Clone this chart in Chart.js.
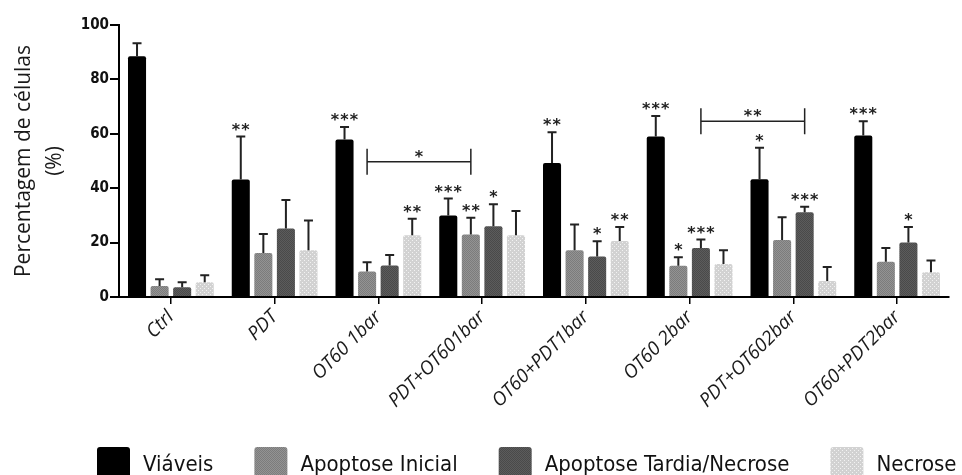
<!DOCTYPE html>
<html>
<head>
<meta charset="utf-8">
<script src="https://cdn.jsdelivr.net/npm/chart.js@4/dist/chart.umd.min.js"></script>
<style>
    html, body { margin: 0; padding: 0; background: #fff; }
    #wrap { width: 962px; height: 475px; position: relative; }
</style>
</head>
<body>
<div id="wrap"><canvas id="graph"></canvas></div>
<script>
//categories on the x axis
var categories = ['Ctrl', 'PDT', 'OT60 1bar', 'PDT+OT601bar', 'OT60+PDT1bar', 'OT60 2bar', 'PDT+OT602bar', 'OT60+PDT2bar'];

//mean values (%)
var viaveis = [88.5, 43.2, 57.9, 30, 49.3, 59, 43.3, 59.4];
var apoptoseInicial = [4, 16.2, 9.4, 23, 17.2, 11.5, 21, 13];
var apoptoseTardia = [3.6, 25.2, 11.6, 26, 14.9, 18, 31.2, 20];
var necrose = [5.4, 17.2, 22.7, 22.7, 20.6, 12.1, 5.9, 9.1];

//upper error bars
var viaveisErr = [4.8, 15.8, 4.6, 6.2, 11.3, 7.5, 11.6, 5.2];
var apoptoseInicialErr = [2.5, 7, 3.4, 6.1, 9.5, 3.1, 8.3, 5];
var apoptoseTardiaErr = [1.8, 10.5, 3.8, 8.1, 5.6, 3.1, 2, 5.7];
var necroseErr = [2.6, 10.9, 6.1, 8.9, 5.1, 5.1, 5.1, 4.3];

//significance stars over each bar
var viaveisSig = ['', '**', '***', '***', '**', '***', '*', '***'];
var apoptoseInicialSig = ['', '', '', '**', '', '*', '', ''];
var apoptoseTardiaSig = ['', '', '', '*', '*', '***', '***', '*'];
var necroseSig = ['', '', '**', '', '**', '', '', ''];

//comparison brackets: dataset index, from category, to category, height (%), label
var brackets = [
    [1, 2, 3, 49.7, '*'],
    [2, 5, 6, 64.6, '**']
];

var yTicks = [0, 20, 40, 60, 80, 100];

var narrowFont = '"DejaVu Sans Condensed", "Liberation Sans Narrow", Lato, sans-serif';


//small textured fills like the original print
function make_pattern(base, dot, kind) {
    var c = document.createElement('canvas');
    c.width = 4;
    c.height = 4;
    var g = c.getContext('2d');
    g.fillStyle = base;
    g.fillRect(0, 0, 4, 4);
    g.fillStyle = dot;
    for (var x = 0; x < 4; x++) {
        for (var y = 0; y < 4; y++) {
            if (kind == 'checker' && (x + y) % 2 == 0) g.fillRect(x, y, 1, 1);
            if (kind == 'dots' && x % 2 == 0 && y % 2 == 0 && (x + y) % 4 == 0) g.fillRect(x, y, 1, 1);
        }
    }
    return g.createPattern(c, 'repeat');
}

var fillInicial = make_pattern('#939393', '#7c7c7c', 'checker');
var fillTardia = make_pattern('#5c5c5c', '#4a4a4a', 'checker');
var fillNecrose = make_pattern('#d2d2d2', '#f2f2f2', 'dots');


function star_text(ctx, text, x, y) {
    //draw asterisks one by one so they keep the wide spacing
    var pitch = 9.5;
    var start = x - (text.length - 1) * pitch / 2;
    for (var i = 0; i < text.length; i++) {
        ctx.fillText('*', start + i * pitch, y);
    }
}

//error bars + stars
var errorPlugin = {
    id: 'errorBars',
    afterDatasetsDraw: function (chart) {
        var ctx = chart.ctx;
        var yScale = chart.scales.y;
        ctx.save();
        chart.data.datasets.forEach(function (ds, di) {
            var meta = chart.getDatasetMeta(di);
            meta.data.forEach(function (bar, i) {
                var top = yScale.getPixelForValue(ds.data[i] + ds.errors[i]);
                ctx.strokeStyle = '#222';
                ctx.lineWidth = 2;
                ctx.beginPath();
                ctx.moveTo(bar.x, bar.y);
                ctx.lineTo(bar.x, top);
                ctx.moveTo(bar.x - 4.5, top);
                ctx.lineTo(bar.x + 4.5, top);
                ctx.stroke();
                if (ds.sig[i]) {
                    ctx.fillStyle = '#222';
                    ctx.font = 'bold 16px "DejaVu Sans"';
                    ctx.textAlign = 'center';
                    ctx.textBaseline = 'alphabetic';
                    star_text(ctx, ds.sig[i], bar.x, top - 12 + 10);
                }
            });
        });

        //brackets
        brackets.forEach(function (b) {
            var meta = chart.getDatasetMeta(b[0]);
            var x1 = meta.data[b[1]].x;
            var x2 = meta.data[b[2]].x;
            var y = yScale.getPixelForValue(b[3]);
            ctx.strokeStyle = '#222';
            ctx.lineWidth = 1.5;
            ctx.beginPath();
            ctx.moveTo(x1, y);
            ctx.lineTo(x2, y);
            ctx.moveTo(x1, y - 13);
            ctx.lineTo(x1, y + 13);
            ctx.moveTo(x2, y - 13);
            ctx.lineTo(x2, y + 13);
            ctx.stroke();
            ctx.fillStyle = '#222';
            ctx.font = 'bold 16px "DejaVu Sans"';
            ctx.textAlign = 'center';
            star_text(ctx, b[4], (x1 + x2) / 2, y - 10 + 10);
        });
        ctx.restore();
    }
};

//legend across the bottom, spread like the original
var legendPlugin = {
    id: 'bottomLegend',
    afterDraw: function (chart) {
        var ctx = chart.ctx;
        ctx.save();
        ctx.font = '22px ' + narrowFont;
        ctx.textAlign = 'left';
        ctx.textBaseline = 'alphabetic';
        var x = 97;
        chart.data.datasets.forEach(function (ds) {
            ctx.fillStyle = ds.backgroundColor;
            ctx.beginPath();
            ctx.roundRect(x, 447, 33, 30, 3);
            ctx.fill();
            ctx.fillStyle = '#111';
            ctx.fillText(ds.label, x + 46, 471);
            x += 46 + ctx.measureText(ds.label).width + 41;
        });
        ctx.restore();
    }
};


document.addEventListener('DOMContentLoaded', function () {
    var ctx = document.getElementById('graph');

    new Chart(ctx, {
        type: 'bar',
        data: {
            labels: categories,
            datasets: [
                { label: 'Viáveis', data: viaveis, errors: viaveisErr, sig: viaveisSig, backgroundColor: '#000' },
                { label: 'Apoptose Inicial', data: apoptoseInicial, errors: apoptoseInicialErr, sig: apoptoseInicialSig, backgroundColor: fillInicial },
                { label: 'Apoptose Tardia/Necrose', data: apoptoseTardia, errors: apoptoseTardiaErr, sig: apoptoseTardiaSig, backgroundColor: fillTardia },
                { label: 'Necrose', data: necrose, errors: necroseErr, sig: necroseSig, backgroundColor: fillNecrose }
            ]
        },
        options: {
            responsive: true,
            maintainAspectRatio: false,
            animation: false,
            layout: { padding: { top: 25, right: 13, bottom: 0, left: 0 } },
            datasets: {
                bar: {
                    categoryPercentage: 0.87,
                    barPercentage: 0.8,
                    borderRadius: { topLeft: 2, topRight: 2 },
                    borderSkipped: 'bottom'
                }
            },
            plugins: {
                legend: { display: false },
                tooltip: { enabled: false }
            },
            scales: {
                x: {
                    grid: {
                        display: true,
                        drawOnChartArea: false,
                        drawTicks: true,
                        tickLength: 7,
                        offset: false,
                        color: '#000',
                        lineWidth: 1.5
                    },
                    border: { display: true, color: '#000', width: 2 },
                    ticks: {
                        color: '#1a1a1a',
                        font: { family: 'Open Sans', size: 19, style: 'italic' },
                        minRotation: 45,
                        maxRotation: 45,
                        padding: 2,
                        autoSkip: false
                    },
                    afterFit: function (scale) { scale.height = 178; }
                },
                y: {
                    min: 0,
                    max: 100,
                    afterBuildTicks: function (scale) {
                        scale.ticks = yTicks.map(function (v) { return { value: v }; });
                    },
                    ticks: {
                        color: '#111',
                        font: { family: narrowFont, weight: 'bold', size: 15 },
                        padding: 1
                    },
                    grid: {
                        drawOnChartArea: false,
                        drawTicks: true,
                        tickLength: 9,
                        color: '#000',
                        lineWidth: 2
                    },
                    border: { display: true, color: '#000', width: 2 },
                    title: {
                        display: true,
                        text: ['Percentagem de células', '(%)'],
                        color: '#1a1a1a',
                        font: { family: 'Open Sans', size: 21, lineHeight: 1.5 },
                        padding: { top: 8, bottom: 0 }
                    },
                    afterFit: function (scale) { scale.width = 119; }
                }
            }
        },
        plugins: [errorPlugin, legendPlugin]
    });
});
</script>
</body>
</html>
